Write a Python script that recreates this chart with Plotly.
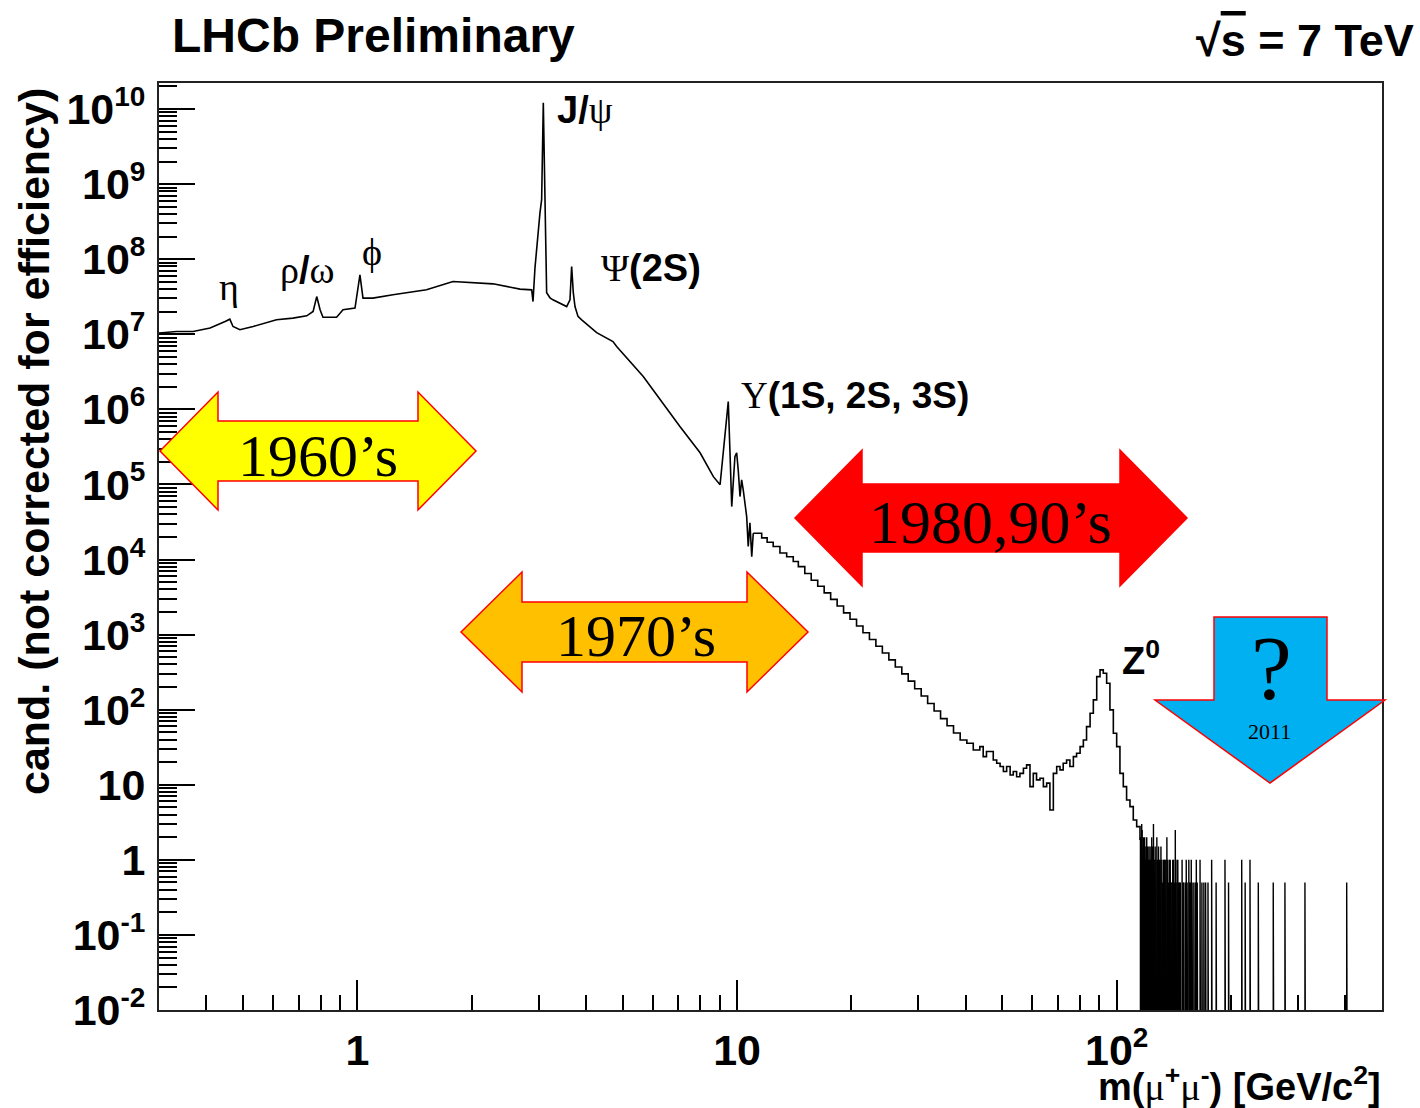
import math
import plotly.graph_objects as go

# ---- dimuon invariant-mass spectrum (GeV/c^2) and candidate counts ----
# smooth low-mass part, drawn as a polyline
mass_lo = [0.300, 0.334, 0.369, 0.409, 0.448, 0.461, 0.470, 0.490, 0.531, 0.612,
           0.676, 0.735, 0.764, 0.781, 0.797, 0.811, 0.881, 0.916, 0.985, 1.015,
           1.034, 1.098, 1.24, 1.52, 1.785, 2.015, 2.275, 2.68, 2.877, 2.90,
           2.935, 3.025, 3.056, 3.087, 3.118, 3.150, 3.215, 3.273, 3.557, 3.629,
           3.666, 3.703, 3.741, 3.81, 3.896, 4.267, 4.71, 4.817, 5.66, 7.07,
           7.99, 8.66, 9.02, 9.48, 9.58, 9.68, 9.87, 9.975, 10.07, 10.18,
           10.28, 10.38, 10.60, 10.70, 10.81, 10.93, 11.03]
cand_lo = [1.04e7, 1.09e7, 1.09e7, 1.21e7, 1.48e7, 1.59e7, 1.27e7, 1.15e7, 1.27e7, 1.56e7,
           1.64e7, 1.76e7, 2.01e7, 3.18e7, 2.12e7, 1.69e7, 1.69e7, 2.12e7, 2.23e7, 6.2e7,
           3.03e7, 3.03e7, 3.36e7, 3.91e7, 5.05e7, 4.9e7, 4.7e7, 4.0e7, 3.91e7, 2.73e7,
           7.68e7, 4.15e8, 6.2e8, 1.21e10, 5.0e8, 3.57e7, 3.06e7, 2.88e7, 2.34e7, 2.88e7,
           8.0e7, 3.57e7, 2.34e7, 1.73e7, 1.56e7, 1.05e7, 8.0e6, 6.87e6, 2.74e6, 5.9e5,
           2.64e5, 1.27e5, 9.9e4, 1.27e6, 2.64e5, 5.07e4, 2.35e5, 2.64e5, 1.56e5, 6.9e4,
           1.15e5, 8.5e4, 3.73e4, 1.49e4, 3.08e4, 1.09e4, 2.24e4]

# binned part above the Upsilon region, drawn as a step histogram
mass_hist = [11.03, 11.61, 12.0, 12.45, 12.97, 13.51, 14.06, 14.50, 15.08, 15.68,
             16.31, 16.96, 17.64, 18.35, 19.08, 19.84, 20.64, 21.46, 22.32, 23.21,
             24.14, 25.11, 26.11, 27.16, 28.24, 29.37, 30.55, 31.77, 33.04, 34.36,
             35.74, 37.17, 38.7, 40.3, 41.9, 43.6, 44.5, 45.4, 47.3, 48.3,
             49.3, 50.3, 51.3, 52.4, 53.4, 54.5, 55.6, 56.8, 57.9, 59.1,
             60.3, 61.5, 62.8, 64.1, 65.4, 66.7, 68.1, 69.5, 70.9, 72.3,
             73.8, 75.3, 76.9, 78.4, 80.1, 81.7, 83.3, 85.1, 86.8, 88.6,
             90.4, 92.2, 94.1, 96.0, 98.0, 100.0, 102.0, 104.1, 106.2, 108.4,
             110.6, 112.9, 115.2]
cand_hist = [2.24e4, 1.94e4, 1.7e4, 1.49e4, 1.22e4, 1.09e4, 9.4e3, 8.05e3, 6500, 5300,
             4400, 3600, 2950, 2400, 1950, 1600, 1300, 1060, 860, 700,
             570, 460, 370, 300, 240, 190, 152, 121, 96, 76,
             61, 49, 39.5, 35.7, 29.1, 32.2, 23.7, 27.7, 21.4, 19.3,
             17.5, 15.0, 17.5, 13.5, 15.0, 12.8, 14.2, 16.6, 18.4, 9.45,
             14.2, 11.6, 12.2, 9.45, 10.5, 4.62, 14.2, 17.5, 15.8, 19.3,
             21.4, 17.5, 23.7, 26.3, 32.2, 39.5, 59.5, 89.6, 135, 276,
             339, 306, 225, 99.3, 48.5, 32.2, 14.2, 9.45, 6.28, 5.12,
             3.40, 2.77, 1.84]

# sparse high-mass tail: individual non-empty bins
spike_mass = [115.5, 115.8, 116.1, 116.4, 116.7, 117.0, 117.3, 117.6, 117.9, 118.2,
              118.5, 118.8, 119.1, 119.4, 119.7, 120.0, 120.3, 120.6, 121.2, 121.6,
              121.9, 122.5, 122.8, 123.1, 123.7, 124.3, 124.6, 125.0, 125.6, 126.3,
              126.9, 127.6, 128.2, 128.9, 129.5, 130.2, 130.8, 131.5, 132.2, 132.9,
              133.5, 134.2, 134.9, 135.6, 136.3, 137.0, 137.7, 138.4, 139.1, 139.8,
              140.5, 141.3, 142.0, 142.7, 143.4, 144.2, 144.9, 145.7, 146.4, 147.1,
              148.7, 149.4, 150.2, 151.7, 152.5, 153.3, 154.9, 155.6, 156.4, 157.2,
              158.0, 159.7, 161.3, 162.1, 163.0, 165.8, 167.7, 169.7, 171.5, 174.0,
              177.9, 182.8, 192.9, 197.1, 213.5, 218.0, 224.5, 236.1, 258.5, 277.5,
              313.3, 403.6]
spike_cand = [2.0, 1.5, 1.0, 3.0, 2.5, 1.0, 1.5, 2.0, 1.0, 1.0,
              2.0, 1.5, 1.0, 1.0, 1.5, 2.0, 1.0, 1.5, 1.0, 1.5,
              1.0, 1.5, 1.0, 1.0, 2.0, 1.5, 1.0, 3.0, 1.0, 1.5,
              1.0, 2.0, 1.0, 1.5, 1.0, 1.0, 1.5, 1.0, 0.5, 1.0,
              1.0, 1.0, 1.0, 2.0, 1.0, 0.5, 1.0, 1.0, 0.5, 0.5,
              1.0, 1.0, 0.5, 2.5, 0.5, 1.0, 1.0, 0.5, 0.5, 0.5,
              1.0, 0.5, 0.5, 0.5, 1.0, 0.5, 1.0, 0.5, 0.5, 1.0,
              0.5, 0.5, 0.5, 1.0, 0.5, 1.0, 0.5, 0.5, 0.5, 0.5,
              1.0, 0.5, 1.0, 0.5, 1.0, 0.5, 1.0, 0.5, 0.5, 0.5,
              0.5, 0.5]

# ---- geometry helpers (plot frame in page pixels) ----
W, H = 1420, 1108
L, R, T, B = 159, 1382, 83, 1010
def fx(px):
    return (px - L) / (R - L)
def fy(py):
    return (B - py) / (B - T)

SANS = "Liberation Sans, Arial, Helvetica, sans-serif"
SERIF = "Liberation Serif, Times New Roman, serif"

fig = go.Figure()

fig.add_trace(go.Scatter(x=mass_lo, y=cand_lo, mode="lines",
                         line=dict(color="black", width=1.6), hoverinfo="skip"))
fig.add_trace(go.Scatter(x=mass_hist, y=cand_hist, mode="lines",
                         line=dict(color="black", width=1.6, shape="hv"), hoverinfo="skip"))

# each tail bin drawn as a thin bar down to below the axis floor
floor = 1e-3
sx, sy = [], []
for m, c in zip(spike_mass, spike_cand):
    m2 = m * 1.003
    sx += [m, m, m2, m2, None]
    sy += [floor, c, c, floor, None]
fig.add_trace(go.Scatter(x=sx, y=sy, mode="lines",
                         line=dict(color="black", width=1.4), hoverinfo="skip"))

# ---- axes ----
def sup(s):
    return "<sup><span style='font-size:28px'>%s</span></sup>" % s

y_major = [10.0 ** k for k in range(-2, 11)]
y_text = ["10" + sup("-2"), "10" + sup("-1"), "1", "10"] + \
         ["10" + sup(str(k)) for k in range(2, 11)]
y_minor = [j * 10.0 ** k for k in range(-2, 11) for j in range(2, 10)]
x_minor = [j * 10.0 ** k for k in range(-1, 3) for j in range(2, 10)]
x_minor = [v for v in x_minor if 0.3 < v <= 500]

tickfont = dict(family=SANS, size=43, color="black", weight="bold")

fig.update_xaxes(type="log", range=[math.log10(0.3), math.log10(500)],
                 tickmode="array", tickvals=[1, 10, 100], ticktext=["1", "10", "10" + sup("2")],
                 ticks="inside", ticklen=30, tickwidth=1.5, tickcolor="black",
                 minor=dict(tickmode="array", tickvals=x_minor, ticks="inside",
                            ticklen=15, tickwidth=1.5, tickcolor="black", showgrid=False),
                 showline=True, linecolor="#222", linewidth=2, mirror=True,
                 showgrid=False, zeroline=False, tickfont=tickfont, ticklabelstandoff=1)
fig.update_yaxes(type="log", range=[-2, 10.347],
                 tickmode="array", tickvals=y_major, ticktext=y_text,
                 ticks="inside", ticklen=36, tickwidth=1.5, tickcolor="black",
                 minor=dict(tickmode="array", tickvals=y_minor, ticks="inside",
                            ticklen=18, tickwidth=1.5, tickcolor="black", showgrid=False),
                 showline=True, linecolor="#222", linewidth=2, mirror=True,
                 showgrid=False, zeroline=False, tickfont=tickfont, ticklabelstandoff=3)

# ---- text ----
ann = []
def text(px, py, s, size, family=SANS, weight="bold", xanchor="center", angle=0):
    ann.append(dict(x=fx(px), y=fy(py), xref="paper", yref="paper", text=s,
                    showarrow=False, xanchor=xanchor, yanchor="middle", textangle=angle,
                    font=dict(family=family, size=size, color="black", weight=weight)))

def greek(s):
    return "<span style='font-family:Liberation Serif;font-weight:normal'>%s</span>" % s

text(170, 36, "LHCb Preliminary", 48, xanchor="left")
text(1416, 40, "√<span style='text-decoration:overline'>s</span> = 7 TeV", 45, xanchor="right")
text(34, 442, "cand. (not corrected for efficiency)", 43, angle=-90)
text(1383, 1084, "m(" + greek("μ") + "<sup>+</sup>" + greek("μ") + "<sup>-</sup>)"
                 " [GeV/c<sup>2</sup>]", 38, xanchor="right")

# resonance labels
text(229, 287, "η", 38, family=SERIF, weight="normal")
text(307, 270, greek("ρ") + "/" + greek("ω"), 38)
text(372, 252, "ϕ", 38, family=SERIF, weight="normal")
text(555, 110, "J/" + greek("ψ"), 38, xanchor="left")
text(599, 268, greek("Ψ") + "(2S)", 38, xanchor="left")
text(739, 395, greek("Υ") + "(1S, 2S, 3S)", 37, xanchor="left")
text(1120, 658, "Z<sup>0</sup>", 38, xanchor="left")

# era arrows
def poly(pts):
    return "M " + " L ".join("%.5f %.5f" % (fx(a), fy(b)) for a, b in pts) + " Z"

def harrow(x0, x1, yc, head_w, head_h, shaft_h):
    return poly([(x0, yc), (x0 + head_w, yc - head_h), (x0 + head_w, yc - shaft_h),
                 (x1 - head_w, yc - shaft_h), (x1 - head_w, yc - head_h), (x1, yc),
                 (x1 - head_w, yc + head_h), (x1 - head_w, yc + shaft_h),
                 (x0 + head_w, yc + shaft_h), (x0 + head_w, yc + head_h)])

shapes = [
    dict(type="path", path=harrow(160, 476, 451, 58, 59, 30), fillcolor="#FFFF00",
         line=dict(color="#FF0000", width=1.5), xref="paper", yref="paper", layer="above"),
    dict(type="path", path=harrow(461, 808, 632, 61, 60, 30), fillcolor="#FFC000",
         line=dict(color="#FF0000", width=1.5), xref="paper", yref="paper", layer="above"),
    dict(type="path", path=harrow(795, 1187, 518, 67, 68, 34), fillcolor="#FF0000",
         line=dict(color="#FF0000", width=1.5), xref="paper", yref="paper", layer="above"),
    dict(type="path", path=poly([(1214, 617), (1327, 617), (1327, 700), (1385, 700),
                                 (1270, 783), (1155, 700), (1214, 700)]),
         fillcolor="#00B0F0", line=dict(color="#FF0000", width=1.5),
         xref="paper", yref="paper", layer="above"),
]

text(318, 456, "1960’s", 60, family=SERIF, weight="normal")
text(636, 636, "1970’s", 60, family=SERIF, weight="normal")
text(990, 522, "1980,90’s", 62, family=SERIF, weight="normal")
text(1271, 668, "?", 92, family=SERIF, weight="normal")
text(1269, 732, "2011", 22, family=SERIF, weight="normal")

fig.update_layout(width=W, height=H, margin=dict(l=L, r=W - R, t=T, b=H - B),
                  paper_bgcolor="white", plot_bgcolor="white", showlegend=False,
                  annotations=ann, shapes=shapes)

fig.write_html("out.html")
